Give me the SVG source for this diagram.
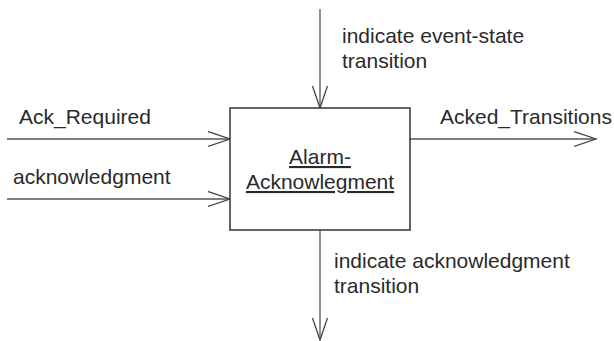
<svg xmlns="http://www.w3.org/2000/svg" width="614" height="341" viewBox="0 0 614 341">
  <style>
    .lbl { font-family: "Liberation Sans", Arial, sans-serif; font-size: 21px; fill: #2a2a2a; }
    .box { fill: #ffffff; stroke: #333333; stroke-width: 1.5; }
    .flow { fill: none; stroke: #555555; stroke-width: 1.3; }
    .head { fill: none; stroke: #444444; stroke-width: 1.3; }
    .title { text-decoration: underline; }
  </style>
  <defs>
    <!-- open V arrowhead, tip at the path end -->
    <marker id="vee" markerWidth="24" markerHeight="18" refX="22" refY="8" orient="auto" markerUnits="userSpaceOnUse">
      <path class="head" d="M0,0.5 L22,8 L0,15.5"/>
    </marker>
  </defs>
  <rect width="614" height="341" fill="#ffffff"/>

  <g id="connectors">
    <path id="c-event" class="flow" d="M320,9 V108" marker-end="url(#vee)"/>
    <path id="c-ackreq" class="flow" d="M7,139 H230" marker-end="url(#vee)"/>
    <path id="c-ack" class="flow" d="M7,199 H230" marker-end="url(#vee)"/>
    <path id="c-acked" class="flow" d="M410,139 H596" marker-end="url(#vee)"/>
    <path id="c-acktrans" class="flow" d="M320,230 V340" marker-end="url(#vee)"/>
    <text class="lbl" x="342" y="43">indicate event-state</text>
    <text class="lbl" x="342" y="68">transition</text>
    <text class="lbl" x="19" y="124">Ack_Required</text>
    <text class="lbl" x="13" y="184">acknowledgment</text>
    <text class="lbl" x="440" y="124">Acked_Transitions</text>
    <text class="lbl" x="334" y="268">indicate acknowledgment</text>
    <text class="lbl" x="334" y="293">transition</text>
  </g>

  <g id="alarm-acknowlegment">
    <rect class="box" x="230" y="108" width="180" height="122"/>
    <text class="lbl title" x="320" y="164" text-anchor="middle">Alarm-</text>
    <text class="lbl title" x="320" y="189" text-anchor="middle">Acknowlegment</text>
  </g>
</svg>
